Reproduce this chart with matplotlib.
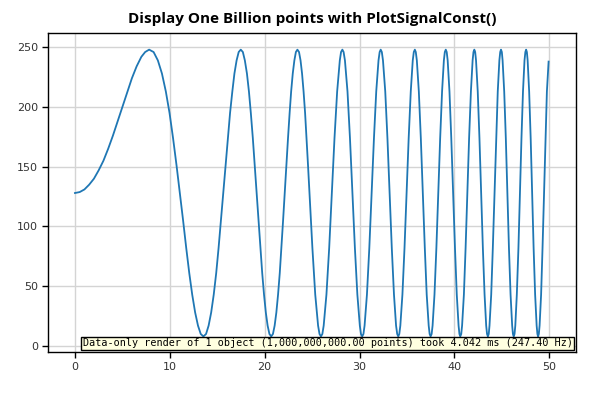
import matplotlib
matplotlib.use("Agg")
from matplotlib import pyplot as plt

# curve samples (x, value)
sample_x = [
    0.0, 0.5, 1.0, 1.5, 2.0, 2.5, 3.0, 3.5, 4.0, 4.5, 5.0, 5.5, 6.0, 6.5, 7.0, 7.4, 7.82,
    8.74, 9.58, 10.34, 11.06, 11.73, 12.36, 12.97, 13.54, 14.09, 14.63, 15.14, 15.64,
    16.12, 16.59, 17.04, 17.48, 17.91, 18.34, 18.75, 19.15, 19.55, 19.93, 20.31, 20.69,
    21.05, 21.41, 21.76, 22.11, 22.46, 22.79, 23.13, 23.45, 23.78, 24.10, 24.41, 24.72,
    25.03, 25.33, 25.63, 25.93, 26.22, 26.51, 26.80, 27.08, 27.36, 27.64, 27.92, 28.19,
    28.46, 28.73, 28.99, 29.25, 29.51, 29.77, 30.03, 30.28, 30.53, 30.78, 31.03, 31.27,
    31.52, 31.76, 32.00, 32.23, 32.47, 32.71, 32.94, 33.17, 33.40, 33.63, 33.85, 34.08,
    34.30, 34.52, 34.74, 34.96, 35.18, 35.40, 35.61, 35.83, 36.04, 36.25, 36.46, 36.67,
    36.88, 37.08, 37.29, 37.49, 37.70, 37.90, 38.10, 38.30, 38.50, 38.70, 38.89, 39.09,
    39.29, 39.48, 39.67, 39.86, 40.06, 40.25, 40.44, 40.62, 40.81, 41.00, 41.18, 41.37,
    41.55, 41.74, 41.92, 42.10, 42.28, 42.46, 42.64, 42.82, 43.00, 43.18, 43.35, 43.53,
    43.70, 43.88, 44.05, 44.23, 44.40, 44.57, 44.74, 44.91, 45.08, 45.25, 45.42, 45.59,
    45.75, 45.92, 46.09, 46.25, 46.42, 46.58, 46.75, 46.91, 47.07, 47.23, 47.39, 47.56,
    47.72, 47.88, 48.04, 48.19, 48.35, 48.51, 48.67, 48.82, 48.98, 49.14, 49.29, 49.45,
    49.60, 49.75, 49.93,
]
sample_y = [
    128, 128.8, 131, 135, 140, 147, 155, 165, 176, 188, 200, 212, 224, 234, 242, 246, 248,
    239, 213, 174, 128, 82, 43, 17, 8, 17, 43, 82,
    128, 174, 213, 239, 248, 239, 213, 174, 128, 82, 43, 17, 8, 17, 43, 82,
    128, 174, 213, 239, 248, 239, 213, 174, 128, 82, 43, 17, 8, 17, 43, 82,
    128, 174, 213, 239, 248, 239, 213, 174, 128, 82, 43, 17, 8, 17, 43, 82,
    128, 174, 213, 239, 248, 239, 213, 174, 128, 82, 43, 17, 8, 17, 43, 82,
    128, 174, 213, 239, 248, 239, 213, 174, 128, 82, 43, 17, 8, 17, 43, 82,
    128, 174, 213, 239, 248, 239, 213, 174, 128, 82, 43, 17, 8, 17, 43, 82,
    128, 174, 213, 239, 248, 239, 213, 174, 128, 82, 43, 17, 8, 17, 43, 82,
    128, 174, 213, 239, 248, 239, 213, 174, 128, 82, 43, 17, 8, 17, 43, 82,
    128, 174, 213, 239, 248, 239, 213, 174, 128, 82, 43, 17, 8, 17, 43, 82,
    128, 174, 213, 238,
]

# extra readings in the wide early swings and around the turning points
extra_x = [
    8.29, 9.17, 9.97, 10.71, 11.40, 12.05, 12.67, 13.26, 13.82, 14.36, 14.89, 15.39,
    15.88, 16.35, 16.81, 17.26, 17.70, 18.13, 18.54, 18.95, 19.35, 19.74, 20.12, 20.50,
    20.87, 21.23, 21.59, 21.94, 22.29, 22.63, 22.96, 23.29, 23.62, 23.94, 24.26, 24.57,
    25.78, 26.08, 28.05, 28.32, 30.15, 30.41, 32.12, 32.35, 33.97, 34.19, 35.72, 35.93,
    37.39, 37.60, 38.99, 39.19, 40.53, 40.72, 42.01, 42.19, 43.44, 43.62, 44.83, 45.00,
    46.17, 46.34, 47.48, 47.64, 48.75, 48.90,
]
extra_y = [
    246, 228, 195, 151, 105, 61, 28, 10, 10, 28, 61, 105,
    151, 195, 228, 246, 246, 228, 195, 151, 105, 61, 28, 10,
    10, 28, 61, 105, 151, 195, 228, 246, 246, 228, 195, 151,
    10, 10, 246, 246, 10, 10, 246, 246, 10, 10, 246, 246,
    10, 10, 246, 246, 10, 10, 246, 246, 10, 10, 246, 246,
    10, 10, 246, 246, 10, 10,
]

x_ticks = [0, 10, 20, 30, 40, 50]
y_ticks = [0, 50, 100, 150, 200, 250]

title = "Display One Billion points with PlotSignalConst()"
note = "Data-only render of 1 object (1,000,000,000.00 points) took 4.042 ms (247.40 Hz)"

pts = sorted(zip(sample_x + extra_x, sample_y + extra_y))
xs = [p[0] for p in pts]
ys = [p[1] for p in pts]

fig = plt.figure(figsize=(6, 4), dpi=100)
ax = fig.add_axes([0.0805, 0.1208, 0.8800, 0.7975])

ax.plot(xs, ys, color="#1f77b4", linewidth=1.3, zorder=3)

ax.set_xlim(-2.81, 52.85)
ax.set_ylim(-4.8, 262.2)
ax.set_xticks(x_ticks)
ax.set_yticks(y_ticks)
ax.grid(True, color="#d4d4d4", linewidth=1)
ax.set_axisbelow(True)
ax.tick_params(length=4, width=1, labelsize=8, colors="black", labelcolor="#333333")
for s in ax.spines.values():
    s.set_linewidth(1)

ax.set_title(title, fontsize=11, fontweight="bold", family="Open Sans", pad=7)

ax.text(0.9935, 0.0105, note, transform=ax.transAxes, ha="right", va="bottom",
        family="DejaVu Sans Mono", fontsize=7.27, zorder=5,
        bbox=dict(boxstyle="square,pad=0.15", fc="#ffffe0", ec="black", lw=1))

fig.savefig("out.png", dpi=100)
